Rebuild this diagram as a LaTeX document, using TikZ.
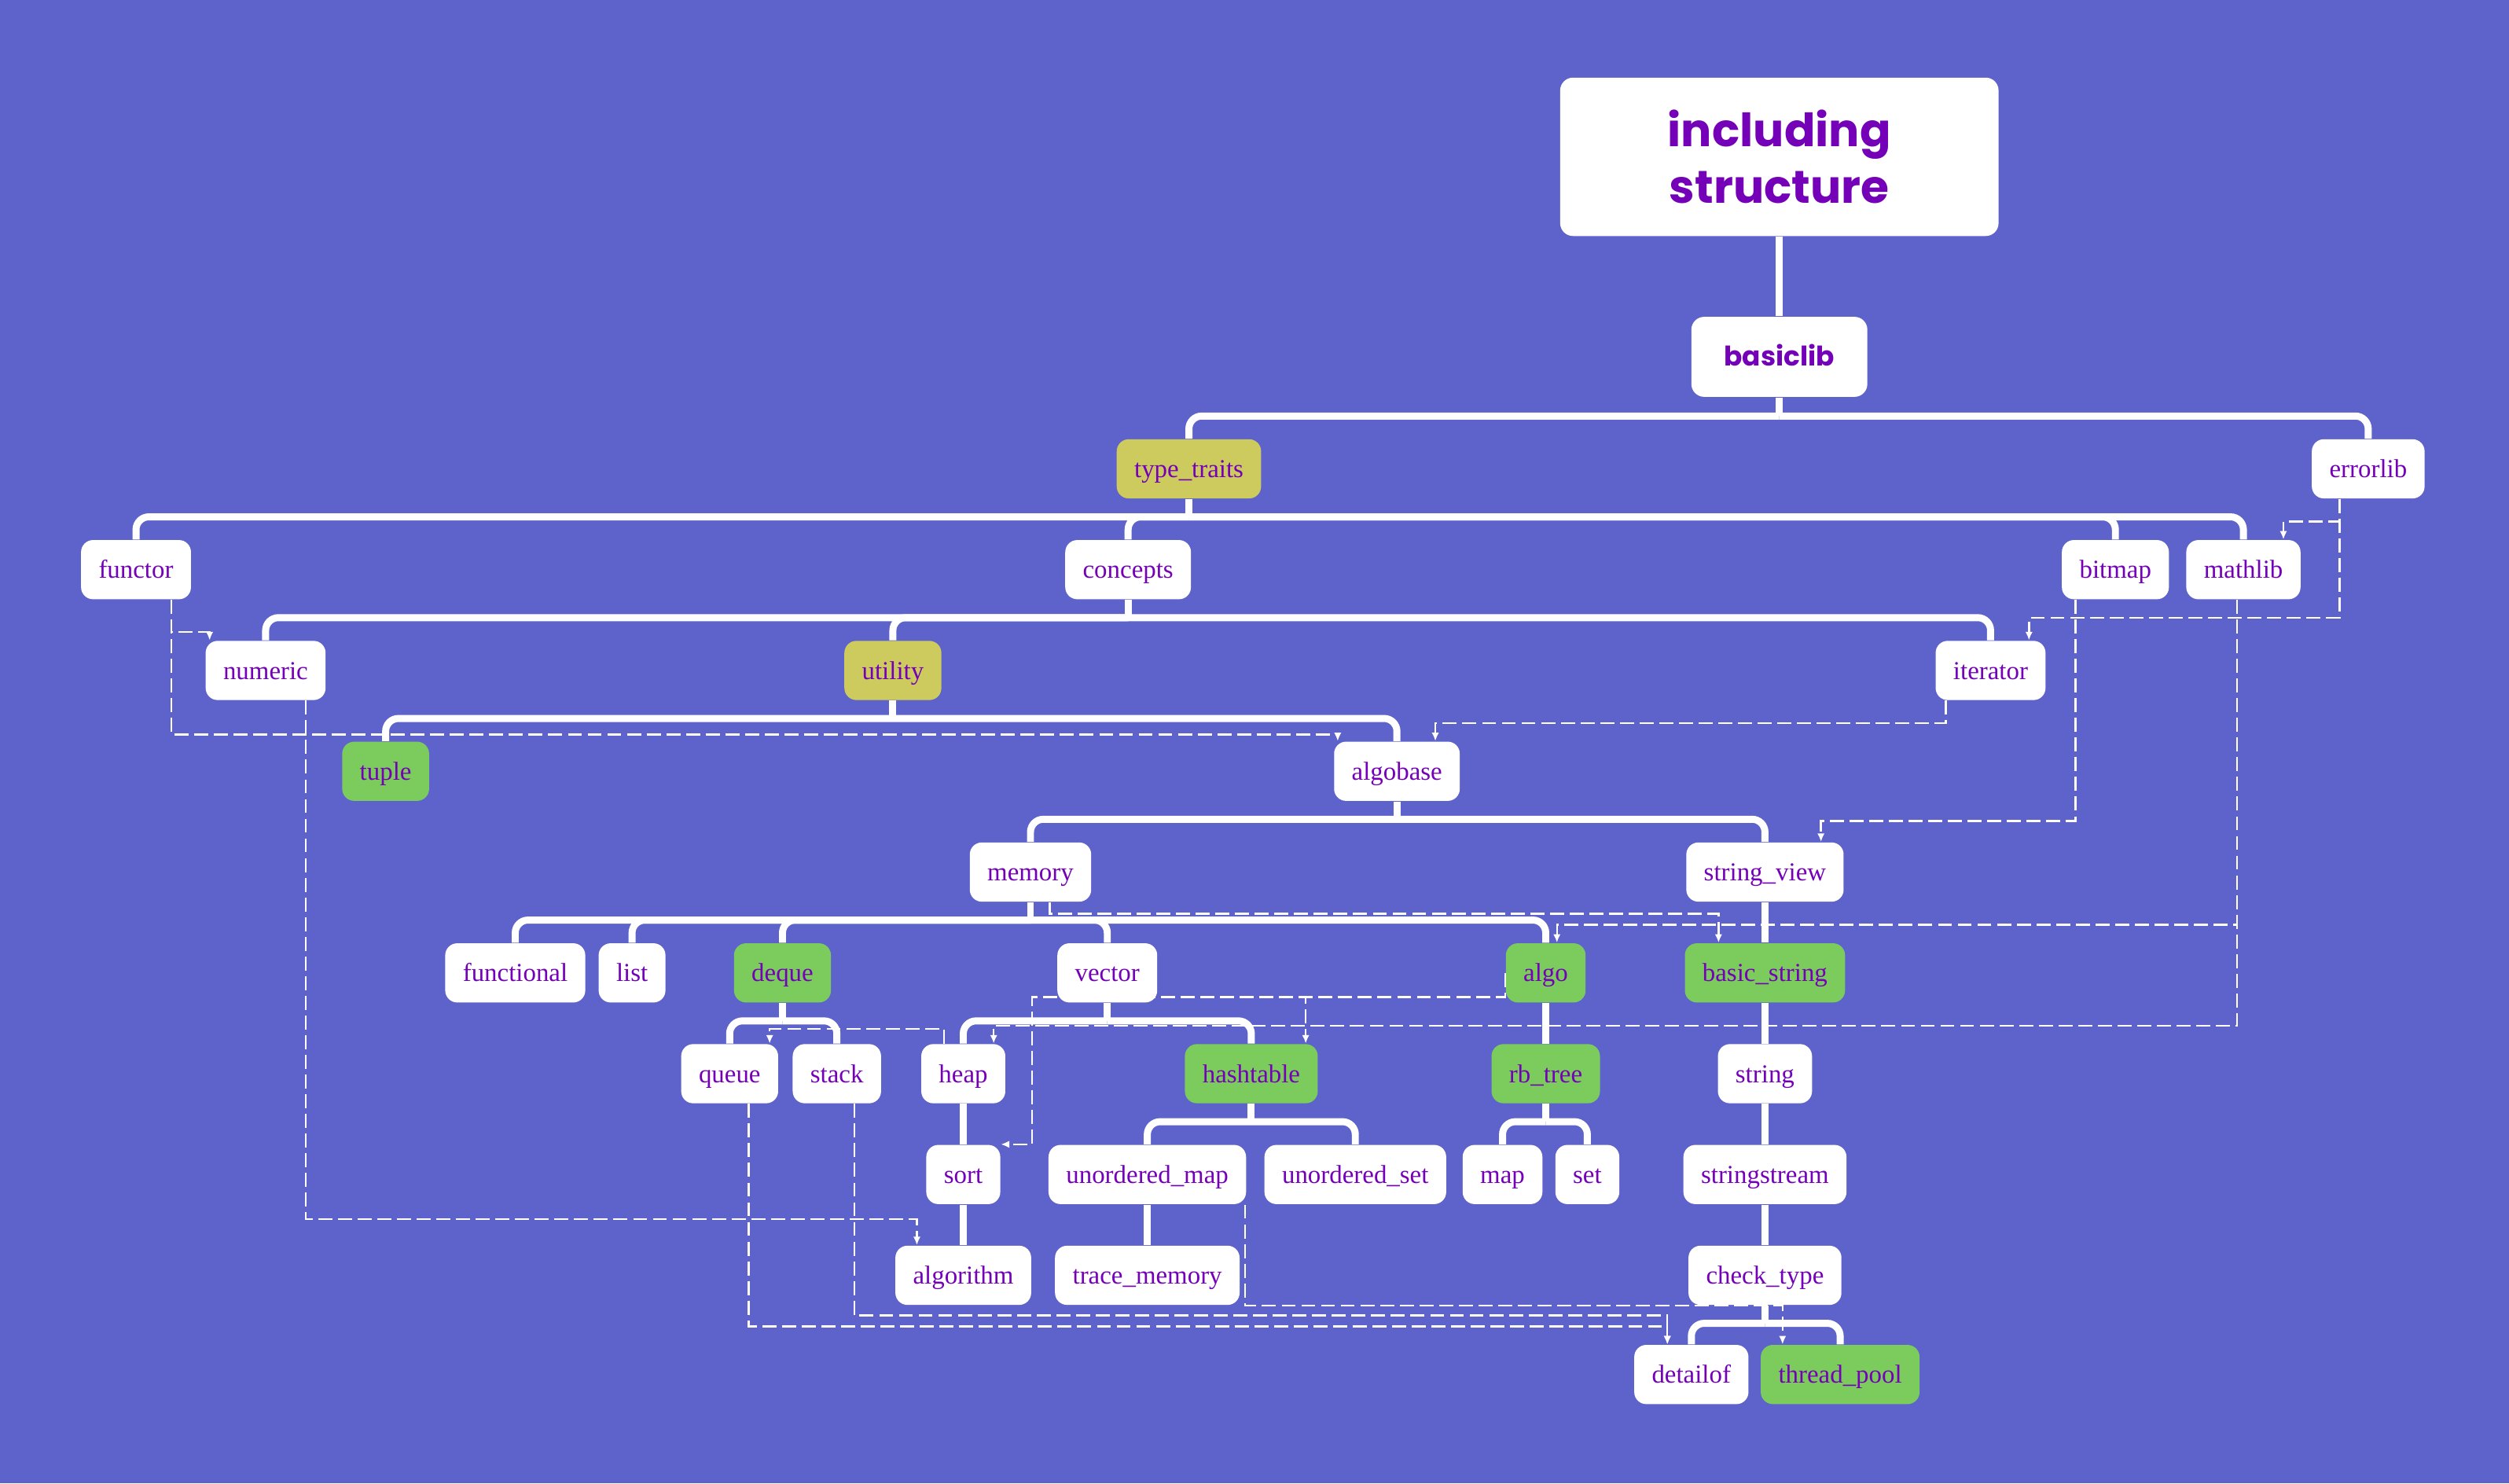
\documentclass[tikz,border=0pt]{standalone}
\usepackage{fontspec}
\usepackage{xcolor}
\setmainfont{Liberation Serif}
\newfontfamily\titlefont{Poppins}
\usetikzlibrary{arrows.meta,backgrounds}
\definecolor{bgblue}{HTML}{5E63CC}
\definecolor{incpurple}{HTML}{7400B8}
\definecolor{incgreen}{HTML}{7CCB5D}
\definecolor{incyellow}{HTML}{CDCB5E}
\newcommand{\libfont}{\fontsize{9.2}{11}\selectfont}
\tikzset{
libbox/.style={rectangle, rounded corners=0.15cm, fill=white, text=incpurple, font=\libfont, inner xsep=0.22cm, inner ysep=0pt, minimum height=0.74cm, text height=1.75ex, text depth=0.4ex},
greenbox/.style={libbox, fill=incgreen},
yellowbox/.style={libbox, fill=incyellow},
titlebox/.style={rectangle, rounded corners=0.16cm, fill=white, text=incpurple, font=\titlefont\bfseries\fontsize{16.3}{20}\selectfont, align=center, minimum width=5.48cm, minimum height=1.98cm},
tree/.style={draw=white, line width=2.5pt, rounded corners=0.16cm},
dep/.style={draw=white, line width=0.7pt, dash pattern=on 5pt off 2pt, -{Latex[length=3pt,width=2.6pt]}}
}
\begin{document}
\begin{tikzpicture}[x=0.02cm, y=-0.02cm]
\useasboundingbox (0,0) rectangle (1568,927);
\node[titlebox] (tit) at (1112,98) {including\\structure};
\node[libbox, font=\titlefont\bfseries\fontsize{9.6}{11}\selectfont, minimum width=2.2cm, minimum height=1.0cm, rounded corners=0.16cm] (bl) at (1112,223) {basiclib};
\node[yellowbox] (tt) at (743,293) {type\_traits};
\node[libbox] (err) at (1480,293) {errorlib};
\node[libbox] (fun) at (85,356) {functor};
\node[libbox] (con) at (705,356) {concepts};
\node[libbox] (bit) at (1322,356) {bitmap};
\node[libbox] (mat) at (1402,356) {mathlib};
\node[libbox] (num) at (166,419) {numeric};
\node[yellowbox] (uti) at (558,419) {utility};
\node[libbox] (itr) at (1244,419) {iterator};
\node[greenbox] (tup) at (241,482) {tuple};
\node[libbox] (alb) at (873,482) {algobase};
\node[libbox] (mem) at (644,545) {memory};
\node[libbox] (sv) at (1103,545) {string\_view};
\node[libbox] (fnl) at (322,608) {functional};
\node[libbox] (lst) at (395,608) {list};
\node[greenbox] (deq) at (489,608) {deque};
\node[libbox] (vec) at (692,608) {vector};
\node[greenbox] (algo) at (966,608) {algo};
\node[greenbox] (bs) at (1103,608) {basic\_string};
\node[libbox] (que) at (456,671) {queue};
\node[libbox] (stk) at (523,671) {stack};
\node[libbox] (hp) at (602,671) {heap};
\node[greenbox] (ht) at (782,671) {hashtable};
\node[greenbox] (rb) at (966,671) {rb\_tree};
\node[libbox] (str) at (1103,671) {string};
\node[libbox] (srt) at (602,734) {sort};
\node[libbox] (um) at (717,734) {unordered\_map};
\node[libbox] (us) at (847,734) {unordered\_set};
\node[libbox] (mp) at (939,734) {map};
\node[libbox] (st) at (992,734) {set};
\node[libbox] (ss) at (1103,734) {stringstream};
\node[libbox] (alg) at (602,797) {algorithm};
\node[libbox] (tm) at (717,797) {trace\_memory};
\node[libbox] (ct) at (1103,797) {check\_type};
\node[libbox] (det) at (1057,859) {detailof};
\node[greenbox] (tp) at (1150,859) {thread\_pool};
\begin{scope}[on background layer]
\fill[bgblue] (0,0) rectangle (1568,927);
\draw[tree] (tit.south) -- (bl.north);
\draw[tree] (bl.south) -- (bl.south |- 0,260);
\draw[tree] (bl.south |- 0,260) -| (tt.north);
\draw[tree] (bl.south |- 0,260) -| (err.north);
\draw[tree] (tt.south) -- (tt.south |- 0,323);
\draw[tree] (tt.south |- 0,323) -| (fun.north);
\draw[tree] (tt.south |- 0,323) -| (con.north);
\draw[tree] (tt.south |- 0,323) -| (bit.north);
\draw[tree] (tt.south |- 0,323) -| (mat.north);
\draw[tree] (con.south) -- (con.south |- 0,386);
\draw[tree] (con.south |- 0,386) -| (num.north);
\draw[tree] (con.south |- 0,386) -| (uti.north);
\draw[tree] (con.south |- 0,386) -| (itr.north);
\draw[tree] (uti.south) -- (uti.south |- 0,449);
\draw[tree] (uti.south |- 0,449) -| (tup.north);
\draw[tree] (uti.south |- 0,449) -| (alb.north);
\draw[tree] (alb.south) -- (alb.south |- 0,512);
\draw[tree] (alb.south |- 0,512) -| (mem.north);
\draw[tree] (alb.south |- 0,512) -| (sv.north);
\draw[tree] (mem.south) -- (mem.south |- 0,575);
\draw[tree] (mem.south |- 0,575) -| (fnl.north);
\draw[tree] (mem.south |- 0,575) -| (lst.north);
\draw[tree] (mem.south |- 0,575) -| (deq.north);
\draw[tree] (mem.south |- 0,575) -| (vec.north);
\draw[tree] (mem.south |- 0,575) -| (algo.north);
\draw[tree] (sv.south) -- (bs.north);
\draw[tree] (deq.south) -- (deq.south |- 0,638);
\draw[tree] (deq.south |- 0,638) -| (que.north);
\draw[tree] (deq.south |- 0,638) -| (stk.north);
\draw[tree] (vec.south) -- (vec.south |- 0,638);
\draw[tree] (vec.south |- 0,638) -| (hp.north);
\draw[tree] (vec.south |- 0,638) -| (ht.north);
\draw[tree] (algo.south) -- (rb.north);
\draw[tree] (bs.south) -- (str.north);
\draw[tree] (hp.south) -- (srt.north);
\draw[tree] (ht.south) -- (ht.south |- 0,701);
\draw[tree] (ht.south |- 0,701) -| (um.north);
\draw[tree] (ht.south |- 0,701) -| (us.north);
\draw[tree] (rb.south) -- (rb.south |- 0,701);
\draw[tree] (rb.south |- 0,701) -| (mp.north);
\draw[tree] (rb.south |- 0,701) -| (st.north);
\draw[tree] (str.south) -- (ss.north);
\draw[tree] (srt.south) -- (alg.north);
\draw[tree] (um.south) -- (tm.north);
\draw[tree] (ss.south) -- (ct.north);
\draw[tree] (ct.south) -- (ct.south |- 0,827);
\draw[tree] (ct.south |- 0,827) -| (det.north);
\draw[tree] (ct.south |- 0,827) -| (tp.north);
\draw[dep] (err.south -| 1462,0) |- (1427,326) -- (mat.north -| 1427,0);
\draw[dep] (err.south -| 1462,0) |- (1268,386) -- (itr.north -| 1268,0);
\draw[dep] (fun.south -| 107,0) |- (131,395) -- (num.north -| 131,0);
\draw[dep] (fun.south -| 107,0) |- (836,459) -- (alb.north -| 836,0);
\draw[dep] (itr.south -| 1216,0) |- (897,452) -- (alb.north -| 897,0);
\draw[dep] (num.south -| 191,0) |- (573,762) -- (alg.north -| 573,0);
\draw[dep] (bit.south -| 1297,0) |- (1138,513) -- (sv.north -| 1138,0);
\draw[dep] (mat.south -| 1398,0) |- (973,578) -- (algo.north -| 973,0);
\draw[dep] (mat.south -| 1398,0) |- (621,641) -- (hp.north -| 621,0);
\draw[dep] (mem.south -| 656,0) |- (1074,571) -- (bs.north -| 1074,0);
\draw[dep] (hp.north -| 590,0) |- (481,643) -- (que.north -| 481,0);
\draw[dep] (algo.west) |- (816,623) -- (ht.north -| 816,0);
\draw[dep] (algo.west) |- (645,623) |- (srt.north east);
\draw[dep] (que.south -| 468,0) |- (1042,829) -- (det.north -| 1042,0);
\draw[dep] (stk.south -| 534,0) |- (1042,822) -- (det.north -| 1042,0);
\draw[dep] (um.south -| 778,0) |- (1114,816) -- (tp.north -| 1114,0);
\end{scope}
\end{tikzpicture}
\end{document}
